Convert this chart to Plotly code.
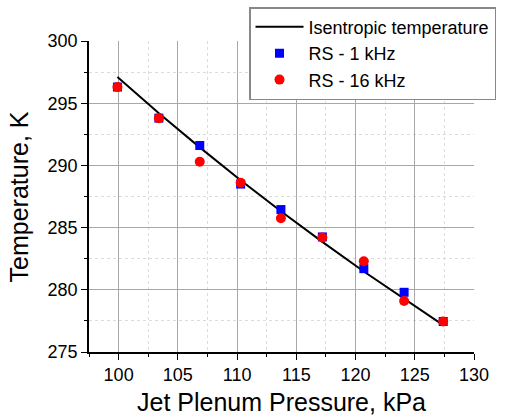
import plotly.graph_objects as go

pressure = [99.9, 103.4, 106.85, 110.3, 113.7, 117.2, 120.7, 124.1, 127.4]
isentropic_T = [297.1, 294.19, 291.45, 288.81, 286.32, 283.85, 281.47, 279.25, 277.16]
rs_1k = [296.3, 293.8, 291.6, 288.5, 286.45, 284.25, 281.7, 279.8, 277.45]
rs_16k = [296.3, 293.8, 290.3, 288.6, 285.75, 284.2, 282.3, 279.1, 277.45]

x_ticks = [100, 105, 110, 115, 120, 125, 130]
y_ticks = [275, 280, 285, 290, 295, 300]

FONT = "Liberation Sans, Arial, sans-serif"

fig = go.Figure()
fig.add_trace(go.Scatter(x=pressure, y=isentropic_T, mode="lines",
                         line=dict(color="black", width=2),
                         name="Isentropic temperature"))
fig.add_trace(go.Scatter(x=pressure, y=rs_1k, mode="markers",
                         marker=dict(symbol="square", size=9, color="#0000FF"),
                         name="RS - 1 kHz"))
fig.add_trace(go.Scatter(x=pressure, y=rs_16k, mode="markers",
                         marker=dict(symbol="circle", size=10, color="#FF0000"),
                         name="RS - 16 kHz"))

axis_common = dict(
    showline=True, linecolor="black", linewidth=1.5,
    ticks="outside", ticklen=6, tickwidth=1.2, tickcolor="black",
    showgrid=True, gridcolor="#a8a8a8", gridwidth=1,
    zeroline=False, automargin=False,
    tickfont=dict(family=FONT, size=18, color="black"),
    minor=dict(ticks="outside", ticklen=3, tickcolor="black", tickwidth=1,
               showgrid=True, gridcolor="#dcdcdc", griddash="dot", gridwidth=1),
)

fig.update_xaxes(range=[97.5, 130], tickvals=x_ticks, ticktext=[str(v) for v in x_ticks],
                 minor_dtick=2.5, minor_tick0=97.5,
                 title=dict(text="Jet Plenum Pressure, kPa",
                            font=dict(family=FONT, size=25, color="black"), standoff=9),
                 **axis_common)
fig.update_yaxes(range=[275, 300], tickvals=y_ticks, ticktext=[str(v) for v in y_ticks],
                 minor_dtick=2.5, minor_tick0=275,
                 **axis_common)

fig.add_annotation(text="Temperature, K", textangle=-90,
                   xref="paper", yref="paper", x=-0.182, y=0.5,
                   xanchor="center", yanchor="middle", showarrow=False,
                   font=dict(family=FONT, size=25, color="black"))

fig.update_layout(
    width=509, height=419,
    margin=dict(l=89, r=35, t=41, b=67, autoexpand=False),
    plot_bgcolor="white", paper_bgcolor="white",
    showlegend=True,
    legend=dict(x=0.4156, y=1.109, xanchor="left", yanchor="top",
                bgcolor="white", bordercolor="#888888", borderwidth=1.5,
                font=dict(family=FONT, size=18, color="black"),
                tracegroupgap=0, itemwidth=48),
)

fig.write_html("out.html")
